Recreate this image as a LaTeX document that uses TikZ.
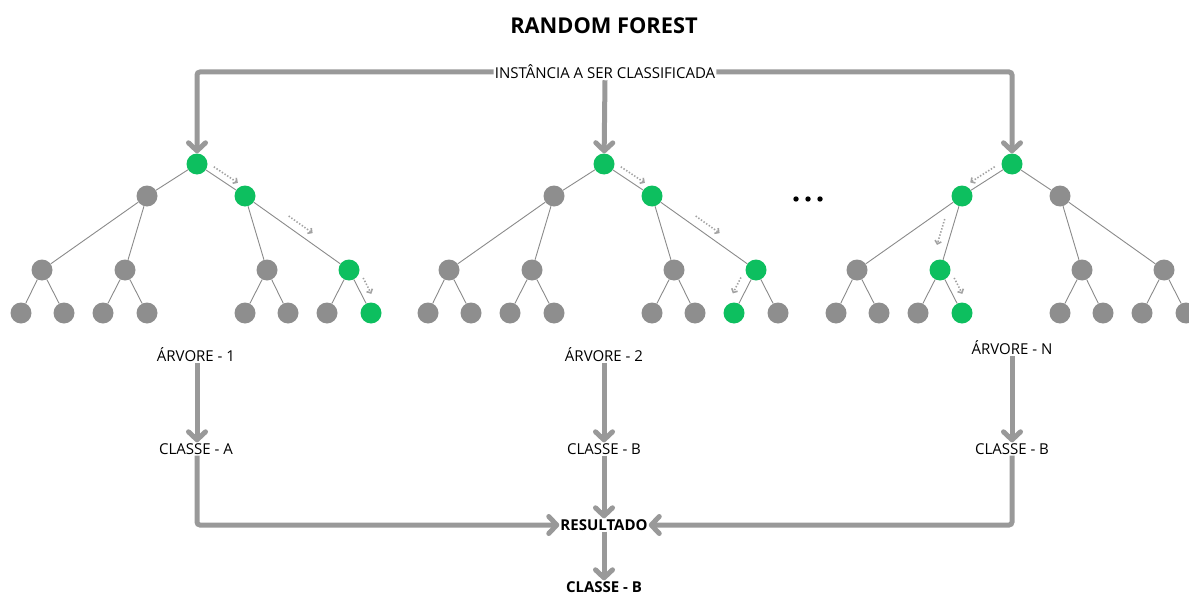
\documentclass[tikz,border=0pt]{standalone}
\usepackage{fontspec}
\setmainfont{Open Sans}
\usetikzlibrary{arrows.meta,calc}

\definecolor{leafgray}{HTML}{8E8E8E}
\definecolor{pathgreen}{HTML}{0DBF5F}
\definecolor{arrowgray}{HTML}{999999}
\definecolor{edgegray}{HTML}{8A8A8A}
\definecolor{flowgray}{HTML}{A2A2A2}

\tikzset{
  tn/.style={circle, fill=leafgray, minimum size=21pt, inner sep=0pt},
  edge/.style={draw=edgegray, line width=0.9pt},
  big/.style={draw=arrowgray, line width=5pt, rounded corners=3pt,
    -{Straight Barb[length=8pt,width=17pt,round]}},
  flow/.style={draw=flowgray, line width=1.6pt, dash pattern=on 1.4pt off 1.8pt,
    -{Straight Barb[length=3pt,width=6.5pt]}},
  lbl/.style={font=\fontsize{15}{18}\selectfont, inner sep=1pt},
  blbl/.style={font=\bfseries\fontsize{15}{18}\selectfont, inner sep=1pt},
  dot/.style={circle, fill=black, minimum size=5.4pt, inner sep=0pt},
  % nodes on the decision path of each tree
  hl-t1r/.style={fill=pathgreen}, hl-t1b/.style={fill=pathgreen},
  hl-t1bb/.style={fill=pathgreen}, hl-t1bbb/.style={fill=pathgreen},
  hl-t2r/.style={fill=pathgreen}, hl-t2b/.style={fill=pathgreen},
  hl-t2bb/.style={fill=pathgreen}, hl-t2bba/.style={fill=pathgreen},
  hl-t3r/.style={fill=pathgreen}, hl-t3a/.style={fill=pathgreen},
  hl-t3ab/.style={fill=pathgreen}, hl-t3abb/.style={fill=pathgreen},
}

% one binary tree of depth 3; #1 = name prefix, #2 = x of the root
\newcommand\foresttree[2]{%
  \begin{scope}[shift={(#2,164)}]
    \node[tn,hl-#1r/.try]   (#1r)   at (0,0) {};
    \node[tn,hl-#1a/.try]   (#1a)   at (-50,32) {};
    \node[tn,hl-#1b/.try]   (#1b)   at (48,32) {};
    \node[tn,hl-#1aa/.try]  (#1aa)  at (-155,106) {};
    \node[tn,hl-#1ab/.try]  (#1ab)  at (-72,106) {};
    \node[tn,hl-#1ba/.try]  (#1ba)  at (70,106) {};
    \node[tn,hl-#1bb/.try]  (#1bb)  at (152,106) {};
    \node[tn,hl-#1aaa/.try] (#1aaa) at (-176,149) {};
    \node[tn,hl-#1aab/.try] (#1aab) at (-133,149) {};
    \node[tn,hl-#1aba/.try] (#1aba) at (-94,149) {};
    \node[tn,hl-#1abb/.try] (#1abb) at (-50,149) {};
    \node[tn,hl-#1baa/.try] (#1baa) at (48,149) {};
    \node[tn,hl-#1bab/.try] (#1bab) at (91,149) {};
    \node[tn,hl-#1bba/.try] (#1bba) at (130,149) {};
    \node[tn,hl-#1bbb/.try] (#1bbb) at (174,149) {};
    \draw[edge] (#1r)--(#1a) (#1r)--(#1b)
      (#1a)--(#1aa) (#1a)--(#1ab) (#1b)--(#1ba) (#1b)--(#1bb)
      (#1aa)--(#1aaa) (#1aa)--(#1aab) (#1ab)--(#1aba) (#1ab)--(#1abb)
      (#1ba)--(#1baa) (#1ba)--(#1bab) (#1bb)--(#1bba) (#1bb)--(#1bbb);
  \end{scope}}

% dotted arrow running beside an edge; #1 from, #2 to, #3 start, #4 end, #5 side offset
\newcommand\flowarrow[5]{%
  \draw[flow] ($(#1)!#3!(#2)!#5!90:(#2)$) -- ($(#1)!#4!(#2)!#5!90:(#2)$);}

\begin{document}
\begin{tikzpicture}[x=1pt,y=-1pt]
  \useasboundingbox (0,0) rectangle (1189,594);
  \clip (0,0) rectangle (1189,594);

  \node[font=\bfseries\fontsize{21.8}{26}\selectfont] (title) at (604,26) {RANDOM FOREST};

  \foresttree{t1}{197}
  \foresttree{t2}{604}
  \foresttree{t3}{1012}

  \node[dot] (d1) at (796,199) {};
  \node[dot] (d2) at (808,199) {};
  \node[dot] (d3) at (820,199) {};

  % decision paths
  \flowarrow{t1r}{t1b}{0.27}{0.77}{7pt}
  \flowarrow{t1b}{t1bb}{0.37}{0.6}{9pt}
  \flowarrow{t1bb}{t1bbb}{0.28}{0.65}{9pt}
  \flowarrow{t2r}{t2b}{0.27}{0.77}{7pt}
  \flowarrow{t2b}{t2bb}{0.37}{0.6}{9pt}
  \flowarrow{t2bb}{t2bba}{0.28}{0.65}{-10pt}
  \flowarrow{t3r}{t3a}{0.27}{0.76}{-7pt}
  \flowarrow{t3a}{t3ab}{0.35}{0.7}{-10pt}
  \flowarrow{t3ab}{t3abb}{0.28}{0.65}{9pt}

  % input instance
  \node[lbl] (inst) at (605,72) {INSTÂNCIA A SER CLASSIFICADA};
  \draw[big] (inst.west) -| (t1r);
  \draw[big] (inst.east) -| (t3r);
  \draw[big] (inst.south) -- (t2r);

  % votes of the trees
  \node[lbl] (arv1) at (196,355) {ÁRVORE - 1};
  \node[lbl] (arv2) at (604,355) {ÁRVORE - 2};
  \node[lbl] (arv3) at (1012,348) {ÁRVORE - N};
  \node[lbl] (cls1) at (196,449) {CLASSE - A};
  \node[lbl] (cls2) at (604,449) {CLASSE - B};
  \node[lbl] (cls3) at (1012,449) {CLASSE - B};
  \node[blbl] (res) at (604,525) {RESULTADO};
  \node[blbl] (fin) at (604,587) {CLASSE - B};

  \draw[big] (arv1.south -| t1r) -- (cls1.north -| t1r);
  \draw[big] (arv2) -- (cls2);
  \draw[big] (arv3) -- (cls3);
  \draw[big] (cls1.south -| t1r) |- (res);
  \draw[big] (cls3) |- (res);
  \draw[big] (cls2) -- (res);
  \draw[big] (res) -- (fin);
\end{tikzpicture}
\end{document}
